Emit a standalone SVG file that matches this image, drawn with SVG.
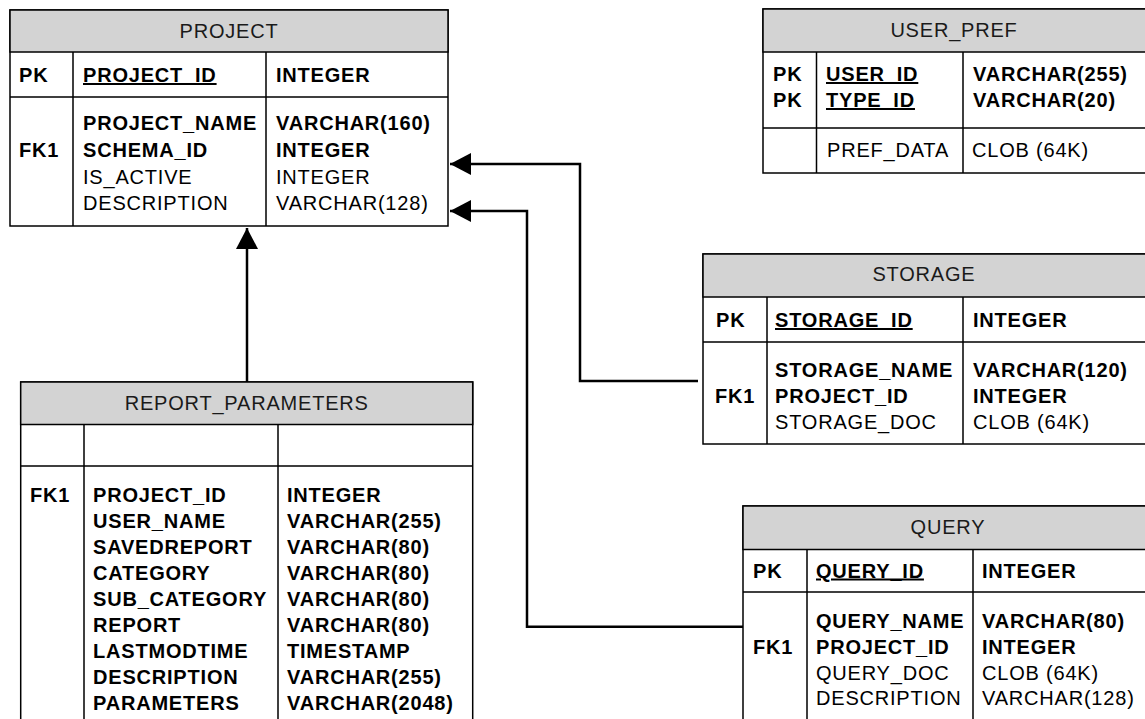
<svg xmlns="http://www.w3.org/2000/svg" width="1145" height="719" viewBox="0 0 1145 719">
<style>
text{font-family:"Liberation Sans",Arial,sans-serif;font-size:20px;letter-spacing:0.8px;fill:#000}
.b{font-weight:bold}
.u{text-decoration:underline}
.h{text-anchor:middle;fill:#1a1a1a}
.box{fill:#fff;stroke:#000;stroke-width:1.5}
.hd{fill:#d3d3d3;stroke:#000;stroke-width:1.5}
.ln{stroke:#000;stroke-width:1.5;fill:none}
.cn{stroke:#000;stroke-width:2.5;fill:none}
</style>
<defs>
<marker id="arr" markerUnits="userSpaceOnUse" markerWidth="22" markerHeight="22" refX="21" refY="11" orient="auto">
<path d="M0,0 L21,11 L0,22 z" fill="#000"/>
</marker>
</defs>
<g id="connectors">
<path class="cn" d="M247,382 V228" marker-end="url(#arr)"/>
<path class="cn" d="M698,381 H580 V164 H450" marker-end="url(#arr)"/>
<path class="cn" d="M743,626.7 H527 V211 H450" marker-end="url(#arr)"/>
</g>
<g id="project">
<rect class="box" x="10" y="10" width="438" height="216"/>
<rect class="hd" x="10" y="10" width="438" height="42"/>
<path class="ln" d="M10,97 H448 M73,52 V226 M266,52 V226"/>
<text class="h" x="229" y="38">PROJECT</text>
<text class="b" x="19" y="82">PK</text>
<text class="b u" x="83" y="82">PROJECT_ID</text>
<text class="b" x="276" y="82">INTEGER</text>
<text class="b" x="19" y="157">FK1</text>
<text class="b" x="83" y="130">PROJECT_NAME</text>
<text class="b" x="83" y="157">SCHEMA_ID</text>
<text x="83" y="184">IS_ACTIVE</text>
<text x="83" y="210">DESCRIPTION</text>
<text class="b" x="276" y="130">VARCHAR(160)</text>
<text class="b" x="276" y="157">INTEGER</text>
<text x="276" y="184">INTEGER</text>
<text x="276" y="210">VARCHAR(128)</text>
</g>
<g id="user_pref">
<rect class="box" x="763" y="9" width="390" height="164"/>
<rect class="hd" x="763" y="9" width="390" height="43"/>
<path class="ln" d="M763,128 H1153 M816.5,52 V173 M963,52 V173"/>
<text class="h" x="954" y="37">USER_PREF</text>
<text class="b" x="773" y="81">PK</text>
<text class="b" x="773" y="107">PK</text>
<text class="b u" x="826" y="81">USER_ID</text>
<text class="b u" x="826" y="107">TYPE_ID</text>
<text class="b" x="973" y="81">VARCHAR(255)</text>
<text class="b" x="973" y="107">VARCHAR(20)</text>
<text x="827" y="157">PREF_DATA</text>
<text x="972" y="157">CLOB (64K)</text>
</g>
<g id="storage">
<rect class="box" x="703" y="254" width="450" height="190"/>
<rect class="hd" x="703" y="254" width="450" height="43"/>
<path class="ln" d="M703,342 H1153 M767,297 V444 M963,297 V444"/>
<text class="h" x="924" y="281">STORAGE</text>
<text class="b" x="716" y="327">PK</text>
<text class="b u" x="775" y="327">STORAGE_ID</text>
<text class="b" x="973" y="327">INTEGER</text>
<text class="b" x="715" y="403">FK1</text>
<text class="b" x="775" y="377">STORAGE_NAME</text>
<text class="b" x="775" y="403">PROJECT_ID</text>
<text x="775" y="428.5">STORAGE_DOC</text>
<text class="b" x="973" y="377">VARCHAR(120)</text>
<text class="b" x="973" y="403">INTEGER</text>
<text x="973" y="428.5">CLOB (64K)</text>
</g>
<g id="query">
<rect class="box" x="743" y="506" width="415" height="225"/>
<rect class="hd" x="743" y="506" width="415" height="43.5"/>
<path class="ln" d="M743,592 H1158 M807,549.5 V731 M973,549.5 V731"/>
<text class="h" x="948" y="533.5">QUERY</text>
<text class="b" x="753" y="577.5">PK</text>
<text class="b u" x="816" y="577.5">QUERY_ID</text>
<text class="b" x="982" y="577.5">INTEGER</text>
<text class="b" x="753" y="653.5">FK1</text>
<text class="b" x="816" y="627.5">QUERY_NAME</text>
<text class="b" x="816" y="653.5">PROJECT_ID</text>
<text x="816" y="679.5">QUERY_DOC</text>
<text x="816" y="705">DESCRIPTION</text>
<text class="b" x="982" y="627.5">VARCHAR(80)</text>
<text class="b" x="982" y="653.5">INTEGER</text>
<text x="982" y="679.5">CLOB (64K)</text>
<text x="982" y="705">VARCHAR(128)</text>
</g>
<g id="report_parameters">
<rect class="box" x="20.7" y="382" width="452" height="350"/>
<rect class="hd" x="20.7" y="382" width="452" height="42.5"/>
<path class="ln" d="M20.7,466 H472.7 M84,424.5 V732 M278,424.5 V732"/>
<text class="h" x="246.7" y="410">REPORT_PARAMETERS</text>
<text class="b" x="30" y="501.7">FK1</text>
<text class="b" x="93" y="501.7">PROJECT_ID</text>
<text class="b" x="93" y="527.7">USER_NAME</text>
<text class="b" x="93" y="553.7">SAVEDREPORT</text>
<text class="b" x="93" y="579.7">CATEGORY</text>
<text class="b" x="93" y="605.7">SUB_CATEGORY</text>
<text class="b" x="93" y="631.7">REPORT</text>
<text class="b" x="93" y="657.7">LASTMODTIME</text>
<text class="b" x="93" y="683.7">DESCRIPTION</text>
<text class="b" x="93" y="709.7">PARAMETERS</text>
<text class="b" x="287" y="501.7">INTEGER</text>
<text class="b" x="287" y="527.7">VARCHAR(255)</text>
<text class="b" x="287" y="553.7">VARCHAR(80)</text>
<text class="b" x="287" y="579.7">VARCHAR(80)</text>
<text class="b" x="287" y="605.7">VARCHAR(80)</text>
<text class="b" x="287" y="631.7">VARCHAR(80)</text>
<text class="b" x="287" y="657.7">TIMESTAMP</text>
<text class="b" x="287" y="683.7">VARCHAR(255)</text>
<text class="b" x="287" y="709.7">VARCHAR(2048)</text>
</g>
</svg>
